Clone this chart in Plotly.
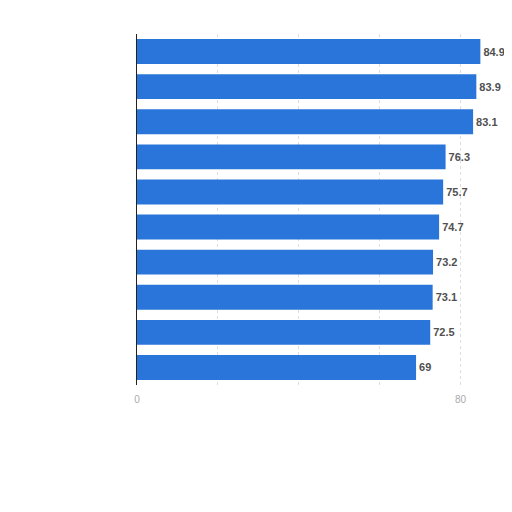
import plotly.graph_objects as go

# Values, top to bottom
categories = ["c1", "c2", "c3", "c4", "c5", "c6", "c7", "c8", "c9", "c10"]
values = [84.9, 83.9, 83.1, 76.3, 75.7, 74.7, 73.2, 73.1, 72.5, 69]
labels = ["84.9", "83.9", "83.1", "76.3", "75.7", "74.7", "73.2", "73.1", "72.5", "69"]

fig = go.Figure()
fig.add_trace(go.Bar(
    x=values,
    y=categories,
    orientation="h",
    marker=dict(color="#2a75d9", line=dict(width=0)),
    text=labels,
    textposition="outside",
    textfont=dict(family="Arial", size=11, color="#505050", weight="bold"),
    cliponaxis=False,
    showlegend=False,
))

fig.update_yaxes(
    autorange="reversed",
    showticklabels=False,
    showline=True,
    linecolor="#222222",
    linewidth=1,
    showgrid=False,
    ticks="",
)
fig.update_xaxes(
    range=[0, 90],
    tickvals=[0, 20, 40, 60, 80],
    ticktext=["0", "", "", "", "80"],
    tickfont=dict(family="Arial", size=10, color="#aaaaaa"),
    ticklabelstandoff=7,
    showgrid=True,
    gridcolor="#dddddd",
    griddash="dot",
    gridwidth=1,
    zeroline=False,
    showline=False,
    ticks="",
)

# page body has an 8px margin, so the figure is sized a little smaller
fig.update_layout(
    width=504,
    height=504,
    margin=dict(l=129, r=11, t=26, b=127),
    bargap=0.29,
    plot_bgcolor="white",
    paper_bgcolor="white",
)

fig.write_html("out.html")
